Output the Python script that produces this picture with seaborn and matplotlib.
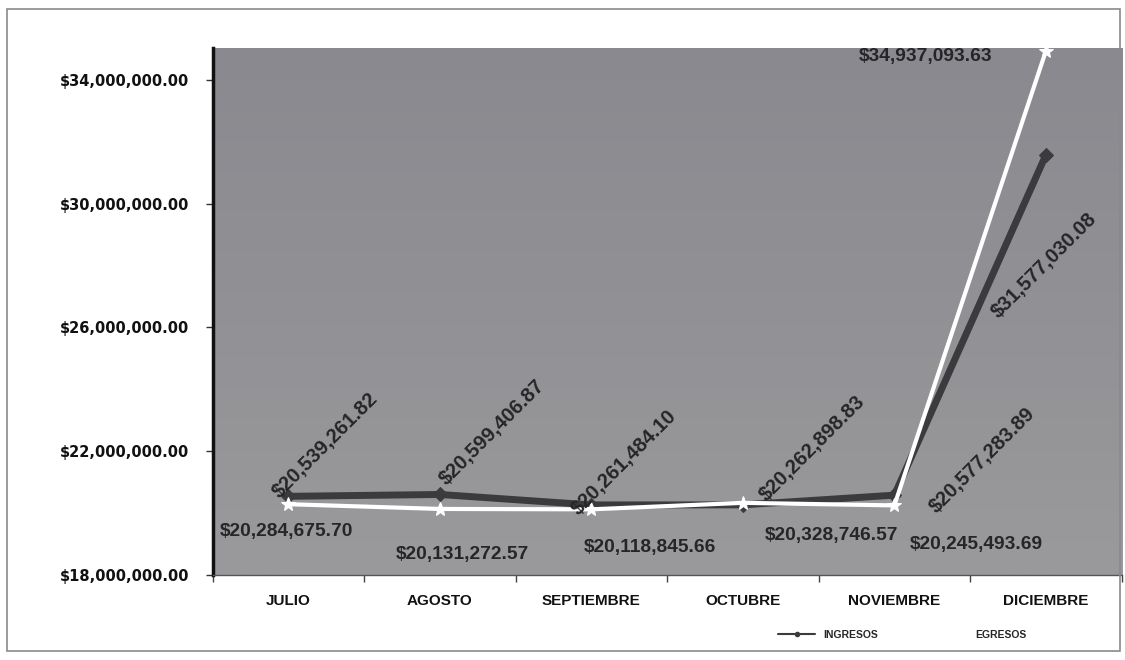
import matplotlib
matplotlib.use("Agg")
import matplotlib.pyplot as plt
import matplotlib.patches as patches
from matplotlib.ticker import FuncFormatter, FixedLocator
from matplotlib.lines import Line2D
import seaborn as sns
import pandas as pd
import numpy as np

meses = ['JULIO', 'AGOSTO', 'SEPTIEMBRE', 'OCTUBRE', 'NOVIEMBRE', 'DICIEMBRE']
ingresos = [20539261.82, 20599406.87, 20261484.10, 20262898.83, 20577283.89, 31577030.08]
egresos = [20284675.70, 20131272.57, 20118845.66, 20328746.57, 20245493.69, 34937093.63]
y_ticks = [18000000, 22000000, 26000000, 30000000, 34000000]

# label offsets in pixels (labels were dragged around by hand in the original)
off_ing = [(-6, -5), (10, 6), (-10, -14), (27, 0), (45, -22), (-44, -167)]
off_eg = [(-2, -27), (23, -46), (59, -38), (89, -33), (82, -39), (-120, -5)]

sns.set_theme(style='white')
plt.rcParams['font.family'] = ['Liberation Sans', 'DejaVu Sans']

df = pd.DataFrame({'mes': meses, 'INGRESOS': ingresos, 'EGRESOS': egresos})

fig = plt.figure(figsize=(11.25, 6.6), dpi=100)
ax = fig.add_axes([0.189, 0.129, 0.808, 0.798])

# outer frame of the pasted chart
fig.patches.append(patches.Rectangle((7 / 1125, 9 / 660), 1113 / 1125, 642 / 660,
                                     transform=fig.transFigure, fill=False,
                                     edgecolor='#8a8a8a', linewidth=1.2))

# gray gradient plot area
grad = np.linspace(0, 1, 200).reshape(-1, 1)
ax.imshow(grad, extent=[0, 1, 0, 1], transform=ax.transAxes, aspect='auto',
          cmap=matplotlib.colors.LinearSegmentedColormap.from_list('g', ['#9a9a9c', '#89898f']),
          origin='lower', zorder=0)

sns.lineplot(data=df, x='mes', y='INGRESOS', sort=False, ax=ax, color='#3b3b3d',
             linewidth=5, marker='D', markersize=7, markeredgecolor='#3b3b3d', zorder=3)
sns.lineplot(data=df, x='mes', y='EGRESOS', sort=False, ax=ax, color='white',
             linewidth=3, marker='*', markersize=10, markeredgecolor='white', zorder=4)

for i, v in enumerate(ingresos):
    ax.annotate(f'${v:,.2f}', (i, v), xytext=off_ing[i], textcoords='offset pixels',
                rotation=45, rotation_mode='anchor', ha='left', va='bottom',
                fontsize=14.5, fontweight='bold', color='#262628', zorder=5)
for i, v in enumerate(egresos):
    ax.annotate(f'${v:,.2f}', (i, v), xytext=off_eg[i], textcoords='offset pixels',
                ha='center', va='center', fontsize=13.8, fontweight='bold',
                color='#262628', zorder=5)

ax.set_xlim(-0.5, 5.5)
ax.set_ylim(18000000, 35030000)
ax.set_yticks(y_ticks)
ax.yaxis.set_major_formatter(FuncFormatter(lambda v, p: f'${v:,.2f}'))
for t in ax.get_yticklabels():
    t.set_fontfamily('DejaVu Sans')
    t.set_fontweight('bold')
    t.set_fontsize(10.5)
ax.set_xticks(range(len(meses)))
ax.set_xticklabels(meses, fontsize=11, fontweight='bold')
ax.xaxis.set_minor_locator(FixedLocator(np.arange(-0.5, 6, 1)))
ax.tick_params(axis='x', which='major', length=0, pad=14, colors='#111111')
ax.tick_params(axis='x', which='minor', length=5, width=1, color='#444444', bottom=True)
ax.tick_params(axis='y', length=5, width=1, color='#333333', left=True, pad=12, colors='#111111')
ax.set_xlabel('')
ax.set_ylabel('')

for s in ['top', 'right']:
    ax.spines[s].set_visible(False)
ax.spines['left'].set_color('#111111')
ax.spines['left'].set_linewidth(2.5)
ax.spines['bottom'].set_color('#555555')
ax.spines['bottom'].set_linewidth(1)

h1 = Line2D([], [], color='#3b3b3d', lw=1.5, marker='o', markersize=3)
h2 = Line2D([], [], color='white', lw=1.5)
fig.legend([h1, h2], ['INGRESOS', 'EGRESOS'], ncol=2, frameon=False,
           loc='center', bbox_to_anchor=(0.802, 0.038),
           prop={'weight': 'bold', 'size': 7.5}, handlelength=3.5, columnspacing=5)
if ax.get_legend():
    ax.get_legend().remove()

fig.savefig('out.png', dpi=100)
